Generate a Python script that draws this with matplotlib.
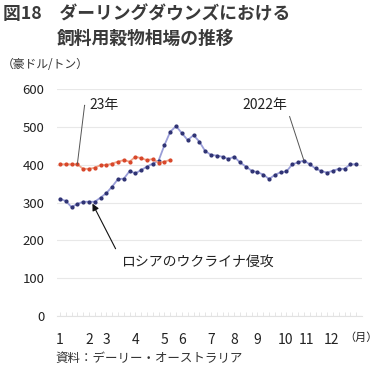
import matplotlib
matplotlib.use("Agg")
import matplotlib.pyplot as plt
import numpy as np

plt.rcParams['font.family'] = ['Noto Sans CJK JP', 'DejaVu Sans']

# weekly prices (AUD/t)
y2022 = [310, 304, 288, 296, 302, 302, 302, 313, 325, 342, 362, 363, 383, 377,
         386, 395, 403, 411, 452, 487, 502, 483, 465, 478, 461, 436, 426, 424,
         421, 415, 421, 406, 395, 384, 380, 374, 362, 373, 380, 382, 401, 406,
         411, 401, 390, 383, 379, 384, 389, 389, 401, 401]
y2023 = [401, 401, 401, 401, 389, 389, 392, 399, 399, 403, 408, 412, 408, 421,
         417, 412, 415, 405, 408, 413]

month_pos = [0, 5, 8, 13, 18, 21, 26, 30, 34, 38.8, 42.5, 46.7]
month_labels = ["1", "2", "3", "4", "5", "6", "7", "8", "9", "10", "11", "12"]
yticks = [0, 100, 200, 300, 400, 500, 600]

W, H = 380, 371
fig = plt.figure(figsize=(W / 100, H / 100), dpi=100)
ax = fig.add_axes([57 / W, (H - 316) / H, 305 / W, 227 / H])

x22 = np.arange(len(y2022))
x23 = np.arange(len(y2023))

ax.plot(x22, y2022, color='#9a9ed8', lw=1.3, marker='o', ms=2.0,
        mfc='#2f3374', mec='#2f3374', zorder=3)
ax.plot(x23, y2023, color='#f0a58a', lw=1.3, marker='o', ms=2.0,
        mfc='#d8472a', mec='#d8472a', zorder=3)

ax.set_xlim(-0.5, 52)
ax.set_ylim(0, 600)
ax.set_yticks(yticks)
ax.grid(axis='y', color='#e8e8e8', lw=0.8)
ax.set_axisbelow(True)
for s in ['top', 'right', 'left']:
    ax.spines[s].set_visible(False)
ax.spines['bottom'].set_color('#e2e2e2')
ax.set_xticks(month_pos)
ax.set_xticklabels(month_labels)
ax.set_xticks(np.arange(len(y2022)), minor=True)
ax.xaxis.remove_overlapping_locs = False
ax.tick_params(axis='x', which='major', length=0, pad=12, labelsize=10, labelcolor='#222222')
ax.tick_params(axis='x', which='minor', length=3, direction='in', color='#e2e2e2')
ax.tick_params(axis='y', length=0, pad=9, labelsize=9.5, labelcolor='#222222')

# annotations
ax.annotate("23年", xy=(3, y2023[3]), xytext=(5, 557), fontsize=10, color='#222222',
            ha='left', va='center',
            arrowprops=dict(arrowstyle='-', color='#555555', lw=0.7, relpos=(0, 0.5),
                            shrinkA=1, shrinkB=0,
                            connectionstyle='angle,angleA=0,angleB=83,rad=0'))
ax.annotate("2022年", xy=(42, y2022[42]), xytext=(39.2, 557), fontsize=10, color='#222222',
            ha='right', va='center',
            arrowprops=dict(arrowstyle='-', color='#555555', lw=0.7, relpos=(1, 0.5),
                            shrinkA=1, shrinkB=0,
                            connectionstyle='angle,angleA=0,angleB=108,rad=0'))
ax.annotate("ロシアのウクライナ侵攻", xy=(5.6, 297), xytext=(10.5, 143), fontsize=10,
            color='#222222', ha='left', va='center',
            arrowprops=dict(arrowstyle='-|>', color='#111111', lw=0.8, relpos=(0, 0.7),
                            mutation_scale=10, shrinkA=4, shrinkB=0))

fig.text(3 / W, 1 - 14 / H, "図18　ダーリングダウンズにおける", fontsize=12.8,
         fontweight='bold', color='#3a3a3a', va='center')
fig.text(57 / W, 1 - 39 / H, "飼料用穀物相場の推移", fontsize=12.8,
         fontweight='bold', color='#3a3a3a', va='center')
fig.text(2 / W, 1 - 64 / H, "（豪ドル/トン）", fontsize=8.5, color='#333333', va='center')
fig.text(378 / W, 1 - 338 / H, "（月）", fontsize=8, color='#222222', va='center', ha='right')
fig.text(55 / W, 1 - 358 / H, "資料：デーリー・オーストラリア", fontsize=9, color='#333333',
         va='center')

fig.savefig("out.png", dpi=100)
